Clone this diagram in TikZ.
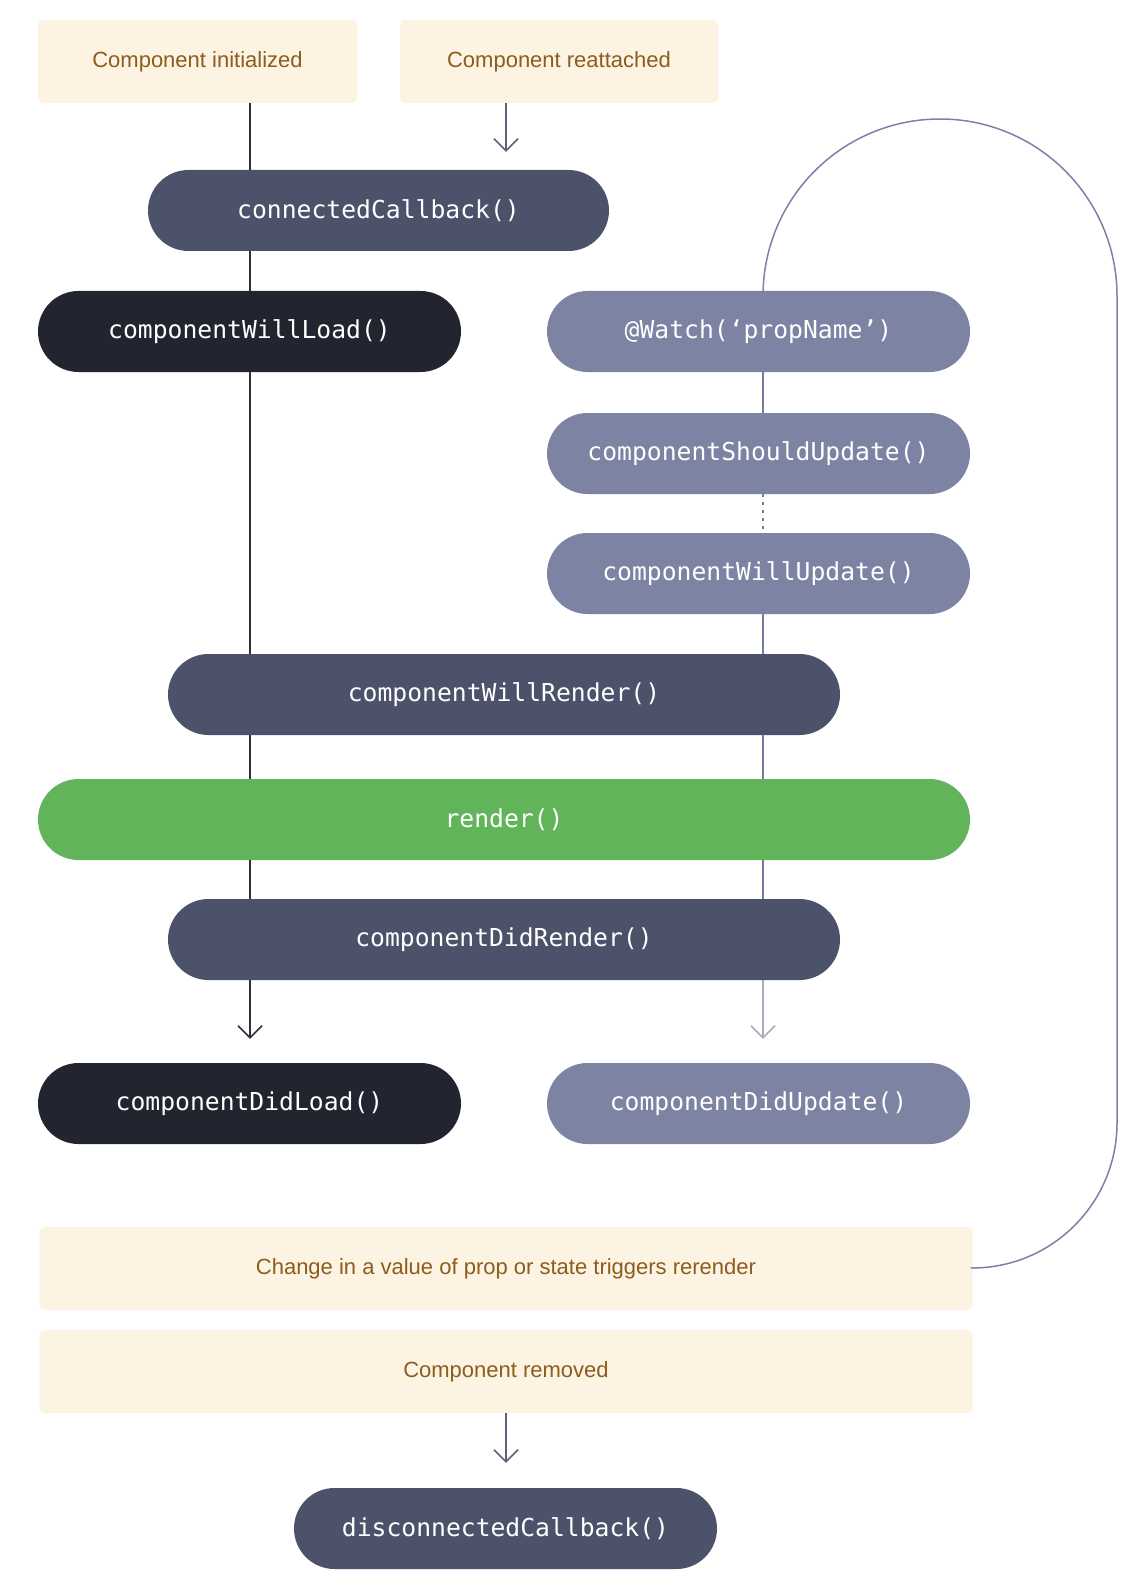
\documentclass[tikz,border=0pt]{standalone}
\usepackage{fontspec}
\setmainfont{Liberation Sans}
\newfontfamily\codefont{DejaVu Sans Mono}
\usetikzlibrary{arrows.meta}

\definecolor{note}{HTML}{FCF3E3}
\definecolor{notetext}{HTML}{8C5D1C}
\definecolor{hookdark}{HTML}{4D526B}
\definecolor{hookblack}{HTML}{222430}
\definecolor{hooklight}{HTML}{7D83A3}
\definecolor{hookgreen}{HTML}{62B45A}
\definecolor{loadline}{HTML}{2C2F3D}
\definecolor{updline}{HTML}{767C9E}
\definecolor{updfaint}{HTML}{A7ABC3}
\definecolor{loopline}{HTML}{7B81A8}
\definecolor{arrowline}{HTML}{5A6080}

\begin{document}
\begin{tikzpicture}[x=1pt,y=-1pt,
  notebox/.style={fill=note, rounded corners=5pt, minimum height=83pt,
    inner sep=0pt, text=notetext, font=\fontsize{22}{26}\selectfont},
  pill/.style={rounded corners=40.5pt, minimum height=81pt, inner sep=0pt,
    text=white, font=\codefont\fontsize{24.7}{30}\selectfont},
  darkpill/.style={pill, fill=hookdark},
  blackpill/.style={pill, fill=hookblack},
  lightpill/.style={pill, fill=hooklight},
  greenpill/.style={pill, fill=hookgreen},
  barb/.style={-{Straight Barb[length=12pt,width=24pt]}},
  loadpath/.style={draw=loadline, line width=1.5pt},
  updpath/.style={draw=updline, line width=1.5pt},
]
\useasboundingbox (0,0) rectangle (1130,1586);

% column positions of the two flows
\coordinate (L) at (250,0);
\coordinate (R) at (763,0);
\coordinate (M) at (506,0);

% notes
\node[notebox, minimum width=319pt] (init) at (197.5,61.5) {Component initialized};
\node[notebox, minimum width=318pt] (reatt) at (559,61.5) {Component reattached};
\node[notebox, minimum width=933pt] (change) at (506,1268.5) {Change in a value of prop or state triggers rerender};
\node[notebox, minimum width=933pt] (removed) at (506,1371.5) {Component removed};

% re-render loop
\draw[loopline, line width=1.5pt] (763,296) arc[start angle=180, end angle=0, radius=177pt]
  -- (1117,1123) arc[start angle=0, end angle=-90, radius=145pt] -- (change.east);

% lifecycle hooks
\node[darkpill, minimum width=461pt] (cc) at (378.5,210.5) {connectedCallback()};
\node[blackpill, minimum width=423pt] (willload) at (249.5,331.5) {componentWillLoad()};
\node[lightpill, minimum width=423pt] (watch) at (758.5,331.5) {@Watch(‘propName’)};
\node[lightpill, minimum width=423pt] (should) at (758.5,453.5) {componentShouldUpdate()};
\node[lightpill, minimum width=423pt] (willupd) at (758.5,573.5) {componentWillUpdate()};
\node[darkpill, minimum width=672pt] (willrender) at (504,694.5) {componentWillRender()};
\node[greenpill, minimum width=932pt] (render) at (504,819.5) {render()};
\node[darkpill, minimum width=672pt] (didrender) at (504,939.5) {componentDidRender()};
\node[blackpill, minimum width=423pt] (didload) at (249.5,1103.5) {componentDidLoad()};
\node[lightpill, minimum width=423pt] (didupd) at (758.5,1103.5) {componentDidUpdate()};
\node[darkpill, minimum width=423pt] (disc) at (505.5,1528.5) {disconnectedCallback()};

% arrow tip positions
\coordinate (reattTip) at ([yshift=18pt]cc.north);
\coordinate (loadTip) at ([yshift=24pt]didload.north);
\coordinate (updTip) at ([yshift=24pt]didupd.north);
\coordinate (discTip) at ([yshift=25pt]disc.north);

% load flow
\draw[loadpath] (init.south -| L) -- (cc.north -| L);
\draw[loadpath] (cc.south -| L) -- (willload.north -| L);
\draw[loadpath] (willload.south -| L) -- (willrender.north -| L);
\draw[loadpath] (willrender.south -| L) -- (render.north -| L);
\draw[loadpath] (render.south -| L) -- (didrender.north -| L);
\draw[loadpath, barb] (didrender.south -| L) -- (loadTip -| L);

% update flow
\draw[updpath] (watch.south -| R) -- (should.north -| R);
\draw[updpath, dash pattern=on 3pt off 5pt] (should.south -| R) -- (willupd.north -| R);
\draw[updpath] (willupd.south -| R) -- (willrender.north -| R);
\draw[updpath] (willrender.south -| R) -- (render.north -| R);
\draw[updpath] (render.south -| R) -- (didrender.north -| R);
\draw[draw=updfaint, line width=1.5pt, barb] (didrender.south -| R) -- (updTip -| R);

% reattach and removal
\draw[draw=arrowline, line width=1.5pt, barb] (reatt.south -| M) -- (reattTip -| M);
\draw[draw=arrowline, line width=1.5pt, barb] (removed.south -| M) -- (discTip -| M);
\end{tikzpicture}
\end{document}
